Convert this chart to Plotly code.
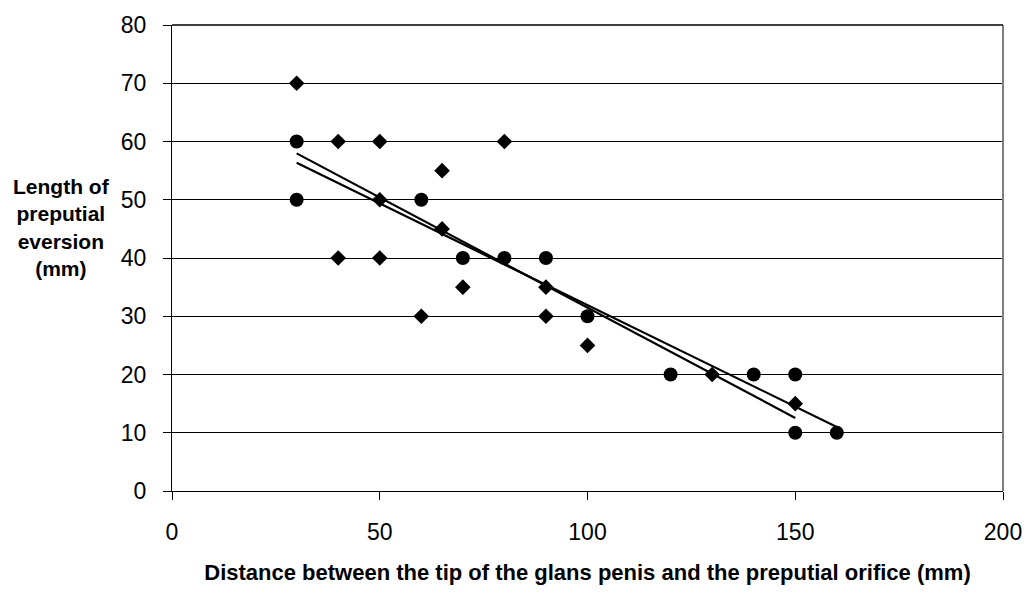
import numpy as np
import plotly.graph_objects as go

# Series A (diamonds)
diamond_x = [30, 40, 50, 80, 65, 50, 65, 40, 50, 70, 60, 90, 90, 100, 130, 150]
diamond_y = [70, 60, 60, 60, 55, 50, 45, 40, 40, 35, 30, 35, 30, 25, 20, 15]

# Series B (circles)
circle_x = [30, 30, 60, 70, 80, 90, 100, 120, 140, 150, 150, 160]
circle_y = [60, 50, 50, 40, 40, 40, 30, 20, 20, 20, 10, 10]

x_ticks = [0, 50, 100, 150, 200]
y_ticks = [0, 10, 20, 30, 40, 50, 60, 70, 80]

x_title = "Distance between the tip of the glans penis and the preputial orifice (mm)"
y_title = "Length of<br>preputial<br>eversion<br>(mm)"


def trend(xs, ys):
    m, b = np.polyfit(xs, ys, 1)
    x0, x1 = min(xs), max(xs)
    return [x0, x1], [m * x0 + b, m * x1 + b]


fig = go.Figure()

tx, ty = trend(diamond_x, diamond_y)
fig.add_trace(go.Scatter(x=tx, y=ty, mode="lines", line=dict(color="black", width=2.2),
                         showlegend=False, hoverinfo="skip"))
tx, ty = trend(circle_x, circle_y)
fig.add_trace(go.Scatter(x=tx, y=ty, mode="lines", line=dict(color="black", width=2.2),
                         showlegend=False, hoverinfo="skip"))

fig.add_trace(go.Scatter(x=diamond_x, y=diamond_y, mode="markers",
                         marker=dict(symbol="diamond", size=12, color="black"),
                         showlegend=False))
fig.add_trace(go.Scatter(x=circle_x, y=circle_y, mode="markers",
                         marker=dict(symbol="circle", size=14, color="black"),
                         showlegend=False))

font_family = "Liberation Sans, Arial, sans-serif"

fig.update_layout(
    width=1034, height=593,
    margin=dict(l=172, r=30, t=20, b=102),
    paper_bgcolor="white", plot_bgcolor="white",
    font=dict(family=font_family, color="black"),
    xaxis=dict(
        range=[0, 200], tickvals=x_ticks, ticktext=[str(v) for v in x_ticks],
        showgrid=False, zeroline=False,
        showline=True, linecolor="black", linewidth=1.3,
        ticks="outside", ticklen=8, tickcolor="black", tickwidth=1,
        tickfont=dict(size=23, family=font_family, color="black"),
        ticklabelstandoff=12,
        title=dict(text="<b>" + x_title + "</b>", font=dict(size=22, family=font_family, color="black"),
                   standoff=20),
    ),
    yaxis=dict(
        range=[0, 80], tickvals=y_ticks, ticktext=[str(v) for v in y_ticks],
        showgrid=True, gridcolor="black", gridwidth=1,
        zeroline=False,
        showline=True, linecolor="black", linewidth=1.3,
        ticks="outside", ticklen=8, tickcolor="black", tickwidth=1,
        tickfont=dict(size=23, family=font_family, color="black"),
        ticklabelstandoff=12,
    ),
    shapes=[
        dict(type="line", xref="paper", yref="paper", x0=1, x1=1, y0=0, y1=1,
             line=dict(color="#808080", width=2)),
        dict(type="line", xref="paper", yref="paper", x0=0, x1=1, y0=1, y1=1,
             line=dict(color="black", width=1.3)),
    ],
    annotations=[
        dict(text="<b>" + y_title + "</b>", xref="paper", yref="paper",
             x=-0.133, y=0.565, xanchor="center", yanchor="middle", showarrow=False,
             align="center", font=dict(size=21, family=font_family, color="black")),
    ],
)

fig.write_html("out.html")
